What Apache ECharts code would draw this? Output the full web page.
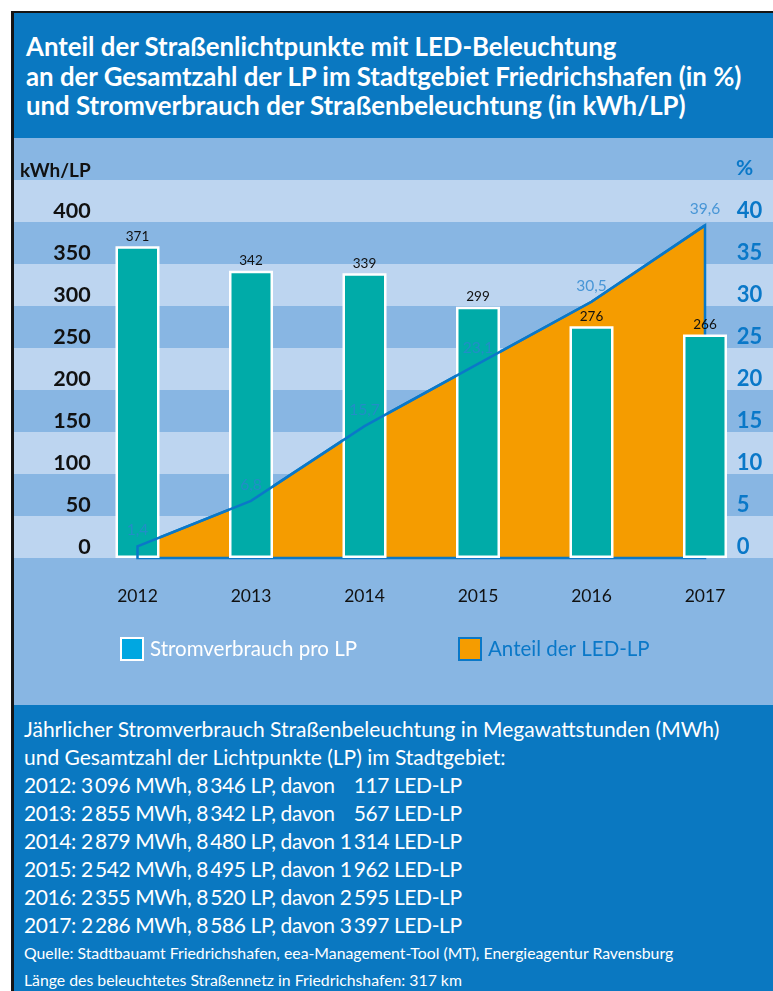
<!DOCTYPE html>
<html>
<head>
<meta charset="utf-8">
<script src="https://cdn.jsdelivr.net/npm/echarts@6/dist/echarts.min.js"></script>
<style>
  body { margin: 0; background: #fff; width: 773px; height: 991px; overflow: hidden; position: relative; font-family: Lato, 'Noto Sans', sans-serif; }
  #frame { position: absolute; left: 11px; top: 11px; width: 762px; height: 980px; background: #151515; }
  #head { position: absolute; left: 14px; top: 13px; width: 759px; height: 125px; background: #0a78c1; color: #fff;
          font-weight: bold; font-size: 25.8px; line-height: 29.5px; box-sizing: border-box; padding: 19px 0 0 12px; white-space: nowrap; }
  #chart { position: absolute; left: 14px; top: 138px; width: 759px; height: 567px; }
  #notes { position: absolute; left: 14px; top: 705px; width: 759px; height: 286px; background: #0a78c1; color: #fff;
           box-sizing: border-box; padding: 10px 0 0 10px; font-size: 21px; line-height: 28px; white-space: pre; }
  #notes .row { letter-spacing: -0.4px; }
  #notes .small { font-size: 15.8px; line-height: 27px; }
</style>
</head>
<body>
<div id="frame"></div>
<div id="head">Anteil der Straßenlichtpunkte mit LED-Beleuchtung<br>an der Gesamtzahl der LP im Stadtgebiet Friedrichshafen (in %)<br>und Stromverbrauch der Straßenbeleuchtung (in kWh/LP)</div>
<div id="chart"></div>
<div id="notes"></div>
<script>
// Werte aus der Grafik
var years = ['2012', '2013', '2014', '2015', '2016', '2017'];
var kwhPerLp = [371, 342, 339, 299, 276, 266];
var ledShare = [1.4, 6.8, 15.7, 23.1, 30.5, 39.6];
// Tabelle unten
var mwh = ['3\u2009096', '2\u2009855', '2\u2009879', '2\u2009542', '2\u2009355', '2\u2009286'];
var lpTotal = ['8\u2009346', '8\u2009342', '8\u2009480', '8\u2009495', '8\u2009520', '8\u2009586'];
var ledLp = ['\u2007\u2009117', '\u2007\u2009567', '1\u2009314', '1\u2009962', '2\u2009595', '3\u2009397'];

var BLUE = '#0a78c8';
var DARK = '#88b6e3';
var LIGHT = '#bdd5f0';

var notes = document.getElementById('notes');
function addLine(text, cls) {
  var d = document.createElement('div');
  if (cls) d.className = cls;
  d.textContent = text;
  notes.appendChild(d);
}
addLine('Jährlicher Stromverbrauch Straßenbeleuchtung in Megawattstunden (MWh)');
addLine('und Gesamtzahl der Lichtpunkte (LP) im Stadtgebiet:');
years.forEach(function (y, i) {
  addLine(y + ': ' + mwh[i] + ' MWh, ' + lpTotal[i] + ' LP, davon ' + ledLp[i] + ' LED-LP', 'row');
});
addLine('Quelle: Stadtbauamt Friedrichshafen, eea-Management-Tool (MT), Energieagentur Ravensburg', 'small');
addLine('Länge des beleuchtetes Straßennetz in Friedrichshafen: 317 km', 'small');

var chart = echarts.init(document.getElementById('chart'));
var font = 'Lato, "Noto Sans", sans-serif';

chart.setOption({
  backgroundColor: DARK,
  textStyle: { fontFamily: font },
  animation: false,
  grid: [
    { left: 0, right: 0, top: 42, bottom: 147 },
    { left: 66.75, right: 11.25, top: 42, bottom: 147 }
  ],
  xAxis: [
    { type: 'value', gridIndex: 0, show: false, min: 0, max: 1 },
    {
      type: 'category', gridIndex: 1, data: years,
      axisLine: { show: false }, axisTick: { show: false },
      axisLabel: { color: '#111', fontSize: 17.5, margin: 29 }
    }
  ],
  yAxis: [
    {
      type: 'value', gridIndex: 0, min: 0, max: 450, interval: 50,
      axisLine: { show: false }, axisTick: { show: false }, axisLabel: { show: false },
      splitLine: { show: false },
      splitArea: { show: true, areaStyle: { color: [LIGHT, DARK] } }
    },
    {
      type: 'value', gridIndex: 1, min: 0, max: 450, interval: 50,
      axisLine: { show: false }, axisTick: { show: false }, splitLine: { show: false },
      axisLabel: {
        color: '#111', fontSize: 21.5, fontWeight: 'bold', margin: -10, verticalAlign: 'bottom',
        formatter: function (v) { return v === 450 ? '' : v; }
      }
    },
    {
      type: 'value', gridIndex: 1, position: 'right', min: 0, max: 45, interval: 5,
      axisLine: { show: false }, axisTick: { show: false }, splitLine: { show: false },
      axisLabel: {
        color: BLUE, fontSize: 22, fontWeight: 'bold', margin: -25, verticalAlign: 'bottom',
        formatter: function (v) { return v === 45 ? '' : v; }
      }
    }
  ],
  legend: [
    {
      left: 101, top: 494, itemWidth: 22, itemHeight: 22, icon: 'rect',
      data: [{ name: 'Stromverbrauch pro LP', itemStyle: { color: '#00a7e1', borderColor: '#fff', borderWidth: 2 } }],
      textStyle: { color: '#fff', fontSize: 20.5, padding: [0, 0, 0, 2] }
    },
    {
      left: 439, top: 494, itemWidth: 22, itemHeight: 22, icon: 'rect',
      data: [{ name: 'Anteil der LED-LP', itemStyle: { color: '#f59c00', borderColor: BLUE, borderWidth: 2 } }],
      textStyle: { color: BLUE, fontSize: 20.5, padding: [0, 0, 0, 2] }
    }
  ],
  graphic: [
    { type: 'text', left: 6, top: 23, style: { text: 'kWh/LP', fill: '#111', font: 'bold 19px ' + font } },
    { type: 'text', left: 722, top: 20, style: { text: '%', fill: BLUE, font: 'bold 21px ' + font } }
  ],
  series: [
    {
      // orange Fläche unter den Balken
      type: 'custom', name: 'Anteil der LED-LP', xAxisIndex: 1, yAxisIndex: 2, z: 1,
      itemStyle: { color: '#f59c00' },
      data: ledShare.map(function (v, i) { return [i, v]; }),
      renderItem: function (params, api) {
        if (params.dataIndex !== 0) return null;
        var pts = [api.coord([0, 0])];
        ledShare.forEach(function (v, i) { pts.push(api.coord([i, v])); });
        pts.push(api.coord([ledShare.length - 1, 0]));
        return {
          type: 'polygon', shape: { points: pts },
          style: { fill: '#f59c00', stroke: BLUE, lineWidth: 2.5, lineJoin: 'miter' }
        };
      }
    },
    {
      type: 'bar', name: 'Stromverbrauch pro LP', xAxisIndex: 1, yAxisIndex: 1, z: 2,
      data: kwhPerLp, barWidth: 44,
      itemStyle: { color: '#00aba8', borderColor: '#fff', borderWidth: 2.5 },
      label: { show: true, position: 'top', distance: 3, color: '#111', fontSize: 13.5 }
    },
    {
      // Linie über den Balken
      type: 'custom', name: 'ledLine', xAxisIndex: 1, yAxisIndex: 2, z: 3,
      data: ledShare.map(function (v, i) { return [i, v]; }),
      renderItem: function (params, api) {
        if (params.dataIndex !== 0) return null;
        var pts = [api.coord([0, 0])];
        ledShare.forEach(function (v, i) { pts.push(api.coord([i, v])); });
        return {
          type: 'polyline', shape: { points: pts },
          style: { fill: null, stroke: BLUE, lineWidth: 2.5, lineJoin: 'miter' }
        };
      }
    },
    {
      type: 'scatter', name: 'labels', xAxisIndex: 1, yAxisIndex: 2, z: 4,
      data: ledShare, symbolSize: 2, itemStyle: { color: 'rgba(0,0,0,0)' },
      label: {
        show: true, position: 'top', distance: 7, color: '#2a86d0', fontSize: 15.5,
        formatter: function (p) { return String(p.value).replace('.', ','); }
      }
    }
  ]
});
</script>
</body>
</html>
